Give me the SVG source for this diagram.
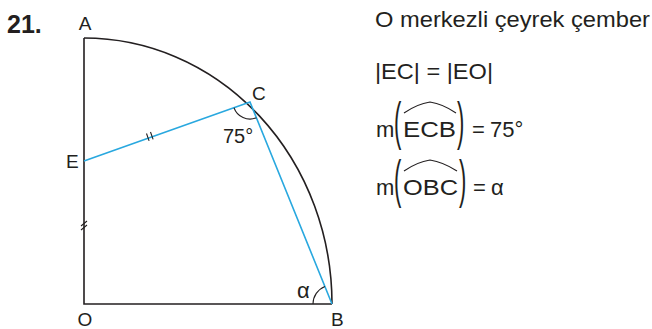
<svg xmlns="http://www.w3.org/2000/svg" width="652" height="329" viewBox="0 0 652 329">
<style>
.t{font-family:"Liberation Sans",Arial,sans-serif;fill:#231f20}
.blk{stroke:#231f20;stroke-width:1.6;fill:none}
.thin{stroke:#231f20;stroke-width:1.1;fill:none}
.blue{stroke:#29a8df;stroke-width:1.6;fill:none}
.r{font-size:22px}
.l{font-size:19px}
</style>
<rect width="652" height="329" fill="#fff"/>
<text class="t" x="7" y="33" font-size="25" font-weight="bold">21.</text>
<g id="shape">
<path class="blk" d="M84,38 L84,304 L332,304"/>
<path class="blk" d="M84,38 A248,266 0 0 1 332,304"/>
</g>
<g id="connectors">
<path class="blue" d="M84,161 L250,102 L332,304"/>
<path class="thin" d="M146.5,133.5 l2.6,7.4 M150.5,132 l2.6,7.4"/>
<path class="thin" d="M81,226 l6,-5 M81,230 l6,-5"/>
<path class="thin" d="M234,107.7 A17,17 0 0 0 256.4,117.8"/>
<path class="thin" d="M313,304 A19,19 0 0 1 324.9,286.4"/>
</g>
<g id="A"><text class="t l" x="85" y="30" text-anchor="middle">A</text></g>
<g id="C"><text class="t l" x="252" y="100">C</text></g>
<g id="E"><text class="t l" x="66" y="168">E</text></g>
<g id="O"><text class="t l" x="85" y="326" text-anchor="middle">O</text></g>
<g id="B"><text class="t l" x="331" y="326">B</text></g>
<text class="t" x="223" y="143" font-size="20">75°</text>
<text class="t" x="297" y="298" font-size="22">α</text>
<g id="info">
<text class="t r" x="375" y="27" textLength="275" lengthAdjust="spacingAndGlyphs">O merkezli çeyrek çember</text>
<text class="t r" x="375" y="79" textLength="118" lengthAdjust="spacingAndGlyphs">|EC| = |EO|</text>
<text class="t r" x="376" y="137">m</text>
<text class="t r" transform="translate(394,139) scale(1,2.37)">(</text>
<text class="t r" x="403" y="137" textLength="53" lengthAdjust="spacingAndGlyphs">ECB</text>
<path class="thin" d="M404,113 Q417,104 430,102 Q443,104 456,113"/>
<text class="t r" transform="translate(457,139) scale(1,2.37)">)</text>
<text class="t r" x="472" y="137">=</text>
<text class="t r" x="490" y="137">75°</text>
<text class="t r" x="376" y="195">m</text>
<text class="t r" transform="translate(394,197) scale(1,2.37)">(</text>
<text class="t r" x="403" y="195" textLength="55" lengthAdjust="spacingAndGlyphs">OBC</text>
<path class="thin" d="M404,171 Q417,162 430,160 Q443,162 457,171"/>
<text class="t r" transform="translate(459,197) scale(1,2.37)">)</text>
<text class="t r" x="473" y="195">=</text>
<text class="t r" x="491" y="195">α</text>
</g>
</svg>
